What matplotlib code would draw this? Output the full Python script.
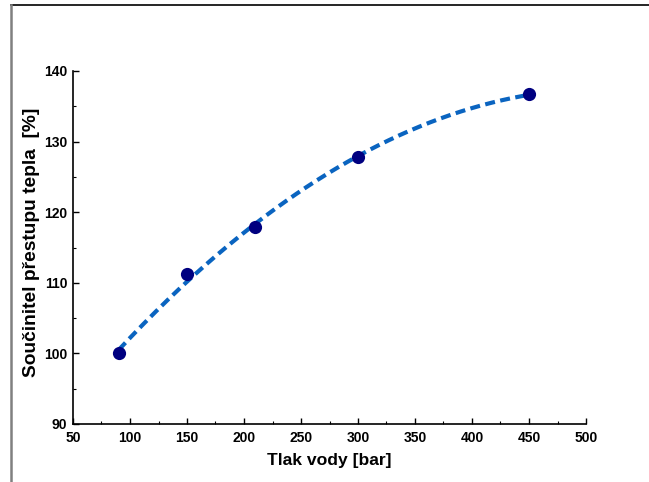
import numpy as np
import matplotlib
matplotlib.use("Agg")
import matplotlib.pyplot as plt
from matplotlib.lines import Line2D
from matplotlib.ticker import MultipleLocator

plt.rcParams['font.family'] = ['Liberation Sans', 'DejaVu Sans']

# Measured data
pressure = [90, 150, 210, 300, 450]          # Tlak vody [bar]
htc = [100.0, 111.2, 117.9, 127.8, 136.7]    # Součinitel přestupu tepla [%]

x_ticks = [50, 100, 150, 200, 250, 300, 350, 400, 450, 500]
y_ticks = [90, 100, 110, 120, 130, 140]

fig = plt.figure(figsize=(6.49, 4.82), dpi=100)
ax = fig.add_axes([73 / 649, 1 - 424 / 482, (586 - 73) / 649, (424 - 71) / 482])

# Quadratic trend through the measurements
coef = np.polyfit(pressure, htc, 2)
xs = np.linspace(min(pressure), max(pressure), 200)
ax.plot(xs, np.polyval(coef, xs), color='#0a64c0', lw=3.0,
        dashes=(2.4, 1.3), zorder=2, solid_capstyle='butt')
ax.plot(pressure, htc, 'o', color='#000080', markersize=9.5, zorder=3,
        markeredgewidth=0)

ax.set_xlim(50, 500)
ax.set_ylim(90, 140)
ax.set_xticks(x_ticks)
ax.set_yticks(y_ticks)
ax.xaxis.set_minor_locator(MultipleLocator(25))
ax.yaxis.set_minor_locator(MultipleLocator(5))

for s in ('top', 'right'):
    ax.spines[s].set_visible(False)
for s in ('left', 'bottom'):
    ax.spines[s].set_linewidth(1.2)

ax.tick_params(which='major', direction='in', length=4, width=1,
               labelsize=10)
ax.tick_params(axis='x', which='major', pad=5)
ax.tick_params(axis='y', which='major', pad=4)
ax.tick_params(which='minor', direction='in', length=2.5, width=0.8)
for lbl in ax.get_xticklabels() + ax.get_yticklabels():
    lbl.set_fontweight('bold')

ax.set_xlabel('Tlak vody [bar]', fontsize=12.6, fontweight='bold', labelpad=6)
ax.set_ylabel('Součinitel přestupu tepla  [%]', fontsize=13.8,
              fontweight='bold', labelpad=3)
ax.yaxis.label.set_y(0.516)

# Frame lines around the figure
fig.add_artist(Line2D([10.5 / 649, 1.0], [1 - 5 / 482, 1 - 5 / 482],
                      transform=fig.transFigure, color='black', lw=1.2))
fig.add_artist(Line2D([10.5 / 649, 10.5 / 649], [0.0, 1 - 5 / 482],
                      transform=fig.transFigure, color='#808080', lw=1.8))

fig.savefig('out.png', dpi=100)
